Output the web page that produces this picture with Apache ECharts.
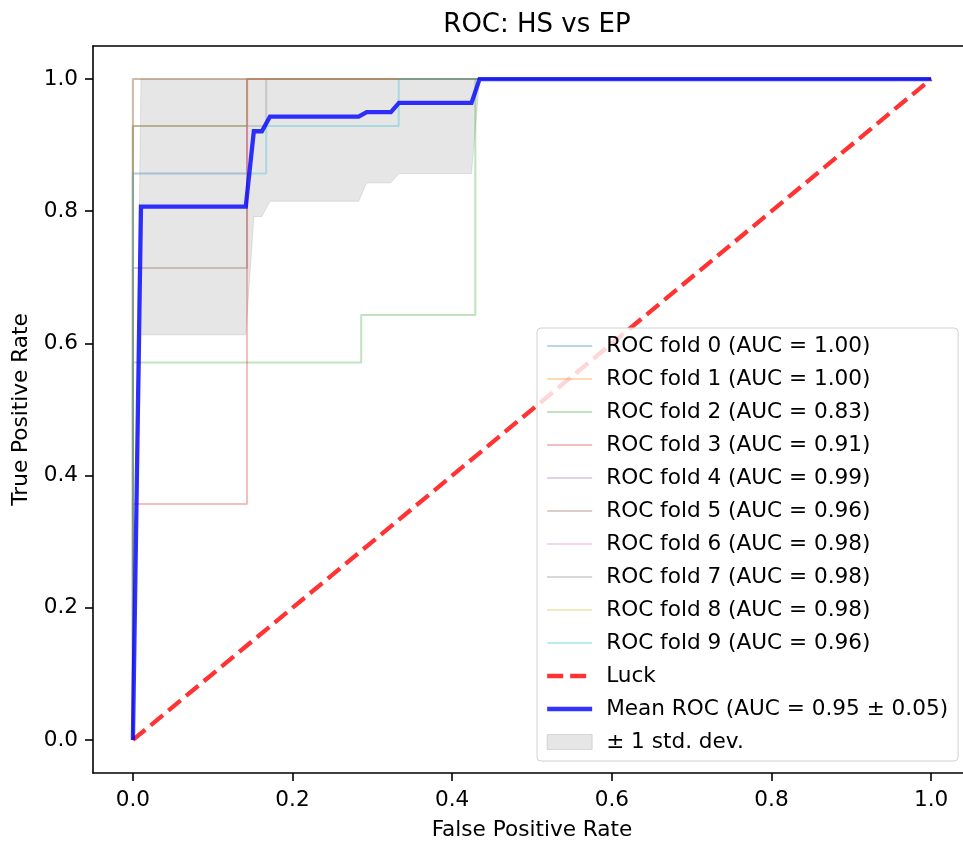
<!DOCTYPE html>
<html>
<head>
<meta charset="utf-8">
<script src="https://cdn.jsdelivr.net/npm/echarts@6/dist/echarts.min.js"></script>
<style>
  html, body { margin: 0; padding: 0; background: #ffffff; }
  #chart { width: 963px; height: 841px; }
</style>
</head>
<body>
<div id="chart"></div>
<script>
// Axis tick positions (both axes)
const tickValues = [0.0, 0.2, 0.4, 0.6, 0.8, 1.0];

// Per-fold AUC values shown in the legend
const foldAuc = ['1.00', '1.00', '0.83', '0.91', '0.99', '0.96', '0.98', '0.98', '0.98', '0.96'];

// ROC curves of the ten folds, [false positive rate, true positive rate]
const fold0 = [[0, 0], [0, 1], [1, 1]];
const fold1 = [[0, 0], [0, 1], [1, 1]];
const fold2 = [[0, 0], [0, 0.571], [0.286, 0.571], [0.286, 0.643], [0.429, 0.643], [0.429, 1], [1, 1]];
const fold3 = [[0, 0], [0, 0.357], [0.143, 0.357], [0.143, 1], [1, 1]];
const fold4 = [[0, 0], [0, 0.929], [0.143, 0.929], [0.143, 1], [1, 1]];
const fold5 = [[0, 0], [0, 0.714], [0.143, 0.714], [0.143, 1], [1, 1]];
const fold6 = [[0, 0], [0, 0.857], [0.143, 0.857], [0.143, 1], [1, 1]];
const fold7 = [[0, 0], [0, 0.929], [0.167, 0.929], [0.167, 1], [1, 1]];
const fold8 = [[0, 0], [0, 0.929], [0.143, 0.929], [0.143, 1], [1, 1]];
const fold9 = [[0, 0], [0, 0.857], [0.167, 0.857], [0.167, 0.929], [0.333, 0.929], [0.333, 1], [1, 1]];

// Chance diagonal
const luck = [[0, 0], [1, 1]];

// Mean ROC curve
const meanFpr = [0, 0.0101, 0.1414, 0.1515, 0.1616, 0.1717, 0.2828, 0.2929, 0.3232, 0.3333, 0.4242, 0.4343, 1.0];
const meanTpr = [0, 0.807, 0.807, 0.921, 0.921, 0.943, 0.943, 0.950, 0.950, 0.964, 0.964, 1.0, 1.0];

// ±1 standard deviation band around the mean (same fpr points)
const bandLower = [0, 0.613, 0.613, 0.792, 0.792, 0.815, 0.815, 0.843, 0.843, 0.857, 0.857, 1.0, 1.0];
const bandUpper = [0, 1.0, 1.0, 1.0, 1.0, 1.0, 1.0, 1.0, 1.0, 1.0, 1.0, 1.0, 1.0];

const foldCurves = [fold0, fold1, fold2, fold3, fold4, fold5, fold6, fold7, fold8, fold9];
const foldColors = [
  'rgba(31,119,180,0.3)', 'rgba(255,127,14,0.3)', 'rgba(44,160,44,0.3)', 'rgba(214,39,40,0.3)',
  'rgba(148,103,189,0.3)', 'rgba(140,86,75,0.3)', 'rgba(227,119,194,0.3)', 'rgba(127,127,127,0.3)',
  'rgba(188,189,34,0.3)', 'rgba(23,190,207,0.3)'
];

const FONT = 'DejaVu Sans';
const bandColor = 'rgba(128,128,128,0.2)';
const luckColor = 'rgba(255,0,0,0.8)';
const meanColor = 'rgba(0,0,255,0.8)';
const luckDash = [16, 7];
const meanName = 'Mean ROC (AUC = 0.95 \u00b1 0.05)';
const bandName = '\u00b1 1 std. dev.';
const spine = { color: '#000', width: 1.6 };

const series = [];

// std band as one filled polygon: upper edge forward, lower edge back
series.push({
  name: bandName,
  type: 'custom',
  silent: true,
  itemStyle: { color: bandColor },
  data: [[meanFpr[0], bandLower[0]]],
  renderItem: function (params, api) {
    const pts = [];
    for (let i = 0; i < meanFpr.length; i++) pts.push(api.coord([meanFpr[i], bandUpper[i]]));
    for (let i = meanFpr.length - 1; i >= 0; i--) pts.push(api.coord([meanFpr[i], bandLower[i]]));
    return {
      type: 'polygon',
      shape: { points: pts },
      style: { fill: bandColor, stroke: bandColor, lineWidth: 1 }
    };
  },
  z: 1
});

const legendData = [];

foldCurves.forEach((curve, i) => {
  const name = 'ROC fold ' + i + ' (AUC = ' + foldAuc[i] + ')';
  series.push({
    name: name,
    type: 'line',
    symbol: 'none',
    itemStyle: { color: foldColors[i] },
    lineStyle: { color: foldColors[i], width: 2 },
    data: curve,
    z: 2
  });
  legendData.push({ name: name, lineStyle: { color: foldColors[i], width: 2 } });
});

series.push({
  name: 'Luck',
  type: 'line',
  symbol: 'none',
  itemStyle: { color: luckColor },
  lineStyle: { color: luckColor, width: 4.3, type: luckDash },
  data: luck,
  z: 3
});
legendData.push({ name: 'Luck', lineStyle: { color: luckColor, width: 4.3, type: luckDash } });

series.push({
  name: meanName,
  type: 'line',
  symbol: 'none',
  itemStyle: { color: meanColor },
  lineStyle: { color: meanColor, width: 4.3, join: 'miter' },
  data: meanFpr.map((x, i) => [x, meanTpr[i]]),
  z: 4
});
legendData.push({ name: meanName, lineStyle: { color: meanColor, width: 4.3 } });

legendData.push({
  name: bandName,
  icon: 'rect',
  itemStyle: { color: bandColor, opacity: 1, borderColor: 'rgba(128,128,128,0.25)', borderWidth: 1 }
});

function makeAxis(name, nameGap, labelMargin) {
  return {
    type: 'value',
    min: -0.05,
    max: 1.05,
    name: name,
    nameLocation: 'middle',
    nameGap: nameGap,
    nameTextStyle: { fontFamily: FONT, fontSize: 21.6, color: '#000' },
    axisLine: { show: true, onZero: false, lineStyle: spine },
    splitLine: { show: false },
    axisTick: {
      show: true, inside: false, length: 8,
      customValues: tickValues,
      lineStyle: spine
    },
    axisLabel: {
      customValues: tickValues,
      margin: labelMargin,
      fontFamily: FONT, fontSize: 21.6, color: '#000',
      formatter: v => v.toFixed(1)
    }
  };
}

// top spine of the plot frame
const topSpine = {
  type: 'value',
  position: 'top',
  min: -0.05,
  max: 1.05,
  axisLine: { show: true, onZero: false, lineStyle: spine },
  axisTick: { show: false },
  axisLabel: { show: false },
  splitLine: { show: false }
};

const option = {
  animation: false,
  backgroundColor: '#ffffff',
  title: {
    text: 'ROC: HS vs EP',
    left: 532,
    textAlign: 'center',
    top: 7,
    textStyle: { fontFamily: FONT, fontSize: 26, fontWeight: 'normal', color: '#000', lineHeight: 26 }
  },
  grid: {
    left: 93,
    top: 46,
    width: 878,
    height: 727,
    outerBoundsMode: 'none',
    containLabel: false,
    show: false
  },
  xAxis: [makeAxis('False Positive Rate', 46, 16), topSpine],
  yAxis: makeAxis('True Positive Rate', 60, 15),
  legend: {
    orient: 'vertical',
    left: 537,
    top: 328,
    padding: [7, 10, 8, 8],
    itemWidth: 45,
    itemHeight: 15,
    itemGap: 11,
    backgroundColor: 'rgba(255,255,255,0.8)',
    borderColor: 'rgba(204,204,204,0.9)',
    borderWidth: 1,
    borderRadius: 4,
    selectedMode: false,
    itemStyle: { opacity: 0 },
    data: legendData,
    textStyle: { fontFamily: FONT, fontSize: 21.6, color: '#000', lineHeight: 22, padding: [0, 0, 0, 9] }
  },
  series: series
};

const chart = echarts.init(document.getElementById('chart'), null, { renderer: 'canvas' });
chart.setOption(option);
</script>
</body>
</html>
